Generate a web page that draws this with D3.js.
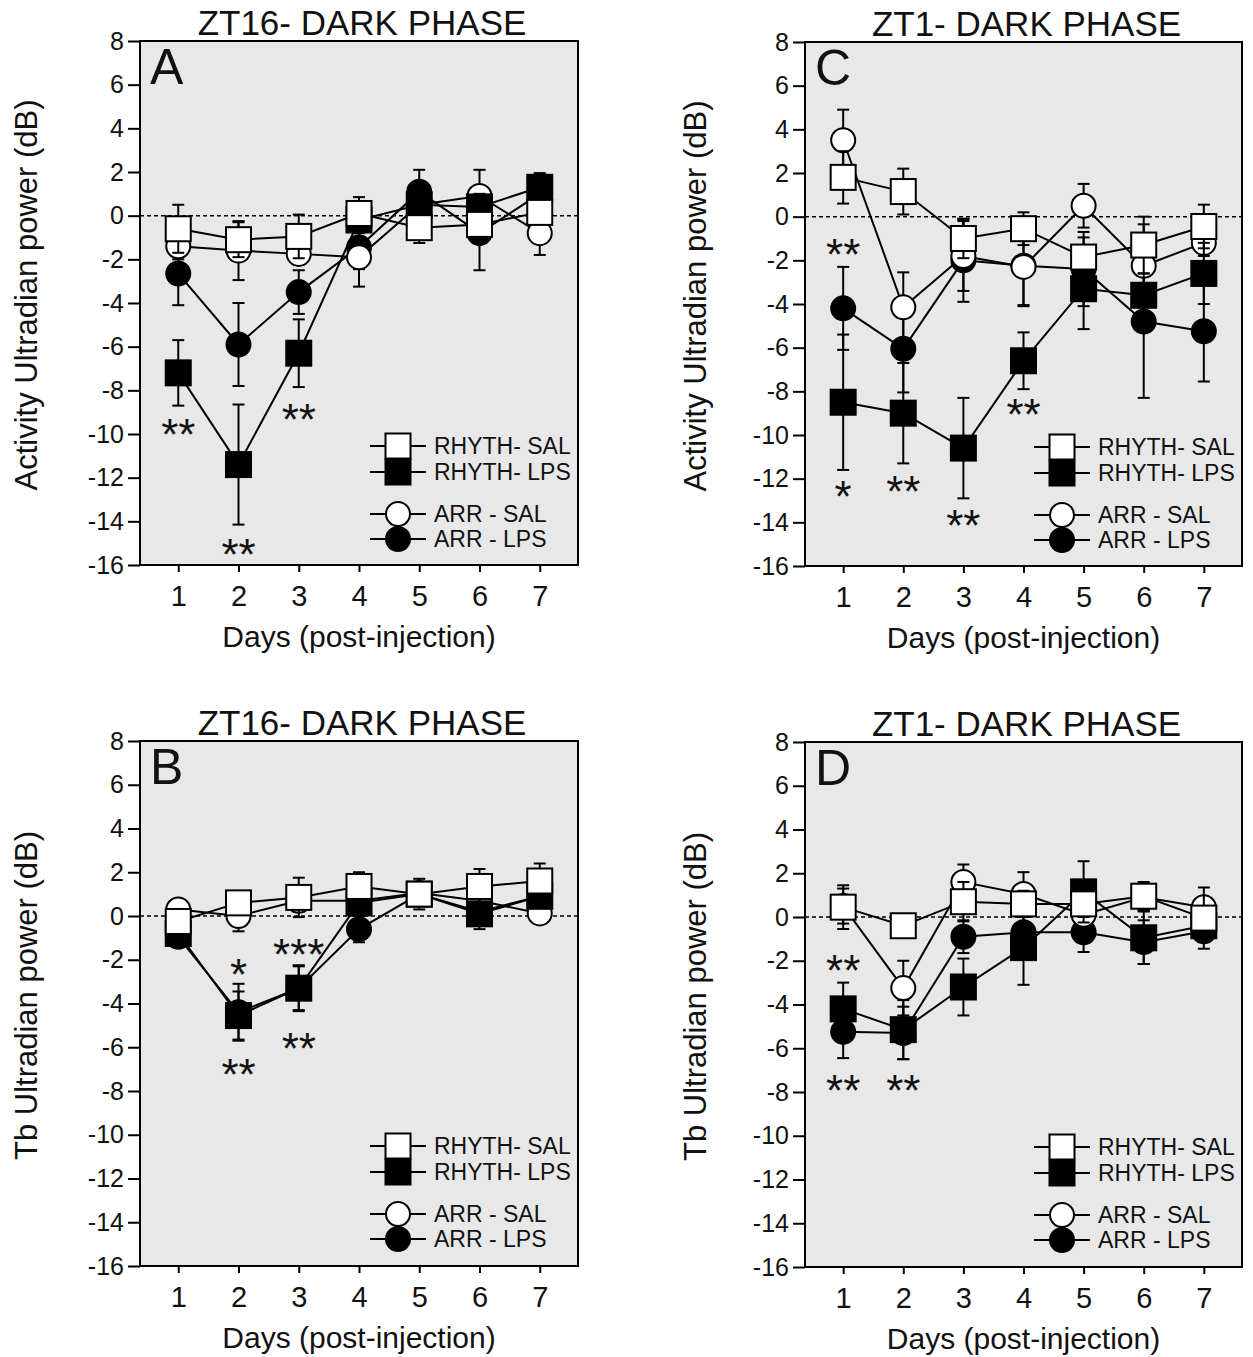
<!DOCTYPE html>
<html>
<head>
<meta charset="utf-8">
<script src="https://cdn.jsdelivr.net/npm/d3@7"></script>
<style>
  body { margin: 0; background: #fff; }
  svg { display: block; font-family: "Liberation Sans", Arial, sans-serif; }
</style>
</head>
<body>
<svg id="fig" width="1253" height="1357"></svg>
<script>
const DAYS = [1, 2, 3, 4, 5, 6, 7];
const Y_TICKS = [-16, -14, -12, -10, -8, -6, -4, -2, 0, 2, 4, 6, 8];
const GROUPS = ["RHYTH- SAL", "RHYTH- LPS", "ARR - SAL", "ARR - LPS"];

// Panel A - activity, ZT16
const A_RHYTH_SAL    = [-0.6, -1.1, -0.95, 0.1, -0.55, -0.4, 0.15];
const A_RHYTH_SAL_SE = [1.1, 0.8, 1.0, 0.75, 0.7, 0.5, 0.5];
const A_RHYTH_LPS    = [-7.2, -11.4, -6.3, -0.2, 0.5, 0.4, 1.3];
const A_RHYTH_LPS_SE = [1.5, 2.75, 1.55, 0.6, 0.5, 0.6, 0.65];
const A_ARR_SAL      = [-1.4, -1.6, -1.75, -1.9, 0.5, 0.9, -0.8];
const A_ARR_SAL_SE   = [0.6, 1.35, 0.5, 1.35, 0.5, 1.2, 1.0];
const A_ARR_LPS      = [-2.65, -5.9, -3.5, -1.45, 1.1, -0.8, 1.0];
const A_ARR_LPS_SE   = [1.45, 1.9, 1.0, 1.0, 1.0, 1.7, 0.6];
const A_STARS = [[1, -9.6, "**"], [2, -15.1, "**"], [3, -8.9, "**"]];

// Panel B - Tb, ZT16
const B_RHYTH_SAL    = [-0.25, 0.6, 0.85, 1.35, 1.0, 1.35, 1.6];
const B_RHYTH_SAL_SE = [0.5, 0.5, 0.9, 0.65, 0.7, 0.8, 0.8];
const B_RHYTH_LPS    = [-0.8, -4.55, -3.3, 0.6, 1.0, 0.1, 0.9];
const B_RHYTH_LPS_SE = [0.4, 1.1, 1.05, 0.5, 0.5, 0.7, 0.5];
const B_ARR_SAL      = [0.3, 0.0, 0.7, 0.7, 1.05, 0.7, 0.12];
const B_ARR_SAL_SE   = [0.3, 0.7, 0.5, 0.5, 0.5, 0.5, 0.4];
const B_ARR_LPS      = [-0.95, -4.4, -3.3, -0.6, 1.0, 0.2, 0.9];
const B_ARR_LPS_SE   = [0.3, 1.3, 1.0, 0.6, 0.5, 0.5, 0.4];
const B_STARS = [[2, -2.25, "*"], [2, -6.8, "**"], [3, -1.3, "***"], [3, -5.6, "**"]];

// Panel C - activity, ZT1
const C_RHYTH_SAL    = [1.8, 1.15, -1.0, -0.55, -1.85, -1.3, -0.45];
const C_RHYTH_SAL_SE = [1.2, 1.05, 0.9, 0.75, 0.9, 1.3, 1.0];
const C_RHYTH_LPS    = [-8.5, -9.0, -10.6, -6.6, -3.3, -3.6, -2.6];
const C_RHYTH_LPS_SE = [3.1, 2.3, 2.3, 1.3, 1.85, 1.0, 1.4];
const C_ARR_SAL      = [3.5, -4.15, -1.8, -2.3, 0.5, -2.25, -1.2];
const C_ARR_SAL_SE   = [1.4, 1.6, 1.6, 1.8, 1.0, 1.9, 0.6];
const C_ARR_LPS      = [-4.2, -6.05, -2.0, -2.25, -2.4, -4.8, -5.25];
const C_ARR_LPS_SE   = [1.9, 2.0, 1.9, 1.8, 1.7, 3.5, 2.3];
const C_STARS = [[1, -1.3, "**"], [1, -12.4, "*"], [2, -12.15, "**"], [3, -13.7, "**"], [4, -8.6, "**"]];

// Panel D - Tb, ZT1
const D_RHYTH_SAL    = [0.45, -0.4, 0.7, 0.6, 0.6, 0.95, -0.05];
const D_RHYTH_SAL_SE = [1.0, 0.4, 0.9, 0.6, 0.6, 0.65, 1.4];
const D_RHYTH_LPS    = [-4.2, -5.15, -3.2, -1.4, 1.15, -0.95, -0.4];
const D_RHYTH_LPS_SE = [1.2, 1.35, 1.3, 1.7, 1.4, 1.2, 0.5];
const D_ARR_SAL      = [0.5, -3.25, 1.6, 1.05, 0.1, 0.9, 0.45];
const D_ARR_SAL_SE   = [0.8, 1.25, 0.8, 1.0, 0.6, 0.6, 0.4];
const D_ARR_LPS      = [-5.25, -5.3, -0.9, -0.7, -0.7, -1.15, -0.65];
const D_ARR_LPS_SE   = [1.2, 1.2, 0.75, 0.7, 0.9, 1.0, 0.5];
const D_STARS = [[1, -2.0, "**"], [1, -7.5, "**"], [2, -7.5, "**"]];

const FONT = { tickY: 25, tickX: 29, axis: 31, xaxis: 30, title: 35, letter: 50, legend: 23, star: 44 };

const svg = d3.select("#fig");

// marker style per group: [shape, fill]
const STYLE = {
  "RHYTH- SAL": ["square", "#fff"],
  "RHYTH- LPS": ["square", "#000"],
  "ARR - SAL":  ["circle", "#fff"],
  "ARR - LPS":  ["circle", "#000"]
};

function series(rs, rsE, rl, rlE, as, asE, al, alE) {
  // drawing order: ARR-LPS, ARR-SAL, RHYTH-LPS, RHYTH-SAL (last on top)
  return [
    { key: GROUPS[3], mean: al, se: alE },
    { key: GROUPS[2], mean: as, se: asE },
    { key: GROUPS[1], mean: rl, se: rlE },
    { key: GROUPS[0], mean: rs, se: rsE }
  ];
}

const panels = [
  { letter: "A", title: "ZT16- DARK PHASE", ylabel: "Activity Ultradian power (dB)",
    box: { left: 140, top: 41, w: 438, h: 524 }, yl: 37,
    series: series(A_RHYTH_SAL, A_RHYTH_SAL_SE, A_RHYTH_LPS, A_RHYTH_LPS_SE, A_ARR_SAL, A_ARR_SAL_SE, A_ARR_LPS, A_ARR_LPS_SE),
    stars: A_STARS },
  { letter: "B", title: "ZT16- DARK PHASE", ylabel: "Tb Ultradian power (dB)",
    box: { left: 140, top: 741, w: 438, h: 525 }, yl: 37,
    series: series(B_RHYTH_SAL, B_RHYTH_SAL_SE, B_RHYTH_LPS, B_RHYTH_LPS_SE, B_ARR_SAL, B_ARR_SAL_SE, B_ARR_LPS, B_ARR_LPS_SE),
    stars: B_STARS },
  { letter: "C", title: "ZT1- DARK PHASE", ylabel: "Activity Ultradian power (dB)",
    box: { left: 805, top: 42, w: 437, h: 524 }, yl: 706,
    series: series(C_RHYTH_SAL, C_RHYTH_SAL_SE, C_RHYTH_LPS, C_RHYTH_LPS_SE, C_ARR_SAL, C_ARR_SAL_SE, C_ARR_LPS, C_ARR_LPS_SE),
    stars: C_STARS },
  { letter: "D", title: "ZT1- DARK PHASE", ylabel: "Tb Ultradian power (dB)",
    box: { left: 805, top: 742, w: 437, h: 525 }, yl: 706,
    series: series(D_RHYTH_SAL, D_RHYTH_SAL_SE, D_RHYTH_LPS, D_RHYTH_LPS_SE, D_ARR_SAL, D_ARR_SAL_SE, D_ARR_LPS, D_ARR_LPS_SE),
    stars: D_STARS }
];

function marker(g, shape, fill, cx, cy) {
  if (shape === "square") {
    const s = 25;
    g.append("rect")
      .attr("x", cx - s / 2).attr("y", cy - s / 2)
      .attr("width", s).attr("height", s)
      .attr("fill", fill).attr("stroke", "#000").attr("stroke-width", 2);
  } else {
    g.append("circle")
      .attr("cx", cx).attr("cy", cy).attr("r", 12)
      .attr("fill", fill).attr("stroke", "#000").attr("stroke-width", 2);
  }
}

panels.forEach(p => {
  const { left, top, w, h } = p.box;
  const x = d3.scaleLinear([0.365, 7.635], [left, left + w]);
  const y = d3.scaleLinear([-16, 8], [top + h, top]);
  const g = svg.append("g");

  // plot background + frame
  g.append("rect")
    .attr("x", left).attr("y", top).attr("width", w).attr("height", h)
    .attr("fill", "#e8e8e8").attr("stroke", "#000").attr("stroke-width", 2);

  // zero reference
  g.append("line")
    .attr("x1", left).attr("x2", left + w)
    .attr("y1", y(0)).attr("y2", y(0))
    .attr("stroke", "#000").attr("stroke-width", 1.5).attr("stroke-dasharray", "4 3");

  // axes (plain hyphen for negatives, as in the figure)
  const ya = g.append("g").attr("transform", `translate(${left},0)`)
    .call(d3.axisLeft(y).tickValues(Y_TICKS).tickSize(12).tickPadding(4).tickFormat(d => String(d)));
  const xa = g.append("g").attr("transform", `translate(0,${top + h})`)
    .call(d3.axisBottom(x).tickValues(DAYS).tickSize(7).tickPadding(13));
  [ya, xa].forEach(a => {
    a.attr("font-family", null);
    a.select(".domain").remove();
    a.selectAll(".tick line").attr("stroke", "#000").attr("stroke-width", 2);
    a.selectAll(".tick text").attr("fill", "#111");
  });
  ya.selectAll(".tick text").attr("font-size", FONT.tickY);
  xa.selectAll(".tick text").attr("font-size", FONT.tickX);

  // series
  const line = d3.line().x((d, i) => x(DAYS[i])).y(d => y(d));
  p.series.forEach(s => {
    const [shape, fill] = STYLE[s.key];
    const sg = g.append("g");
    s.mean.forEach((m, i) => {
      const cx = x(DAYS[i]);
      const y1 = y(m + s.se[i]), y2 = y(m - s.se[i]);
      sg.append("line").attr("x1", cx).attr("x2", cx).attr("y1", y1).attr("y2", y2)
        .attr("stroke", "#000").attr("stroke-width", 2);
      [y1, y2].forEach(yy => sg.append("line")
        .attr("x1", cx - 6).attr("x2", cx + 6).attr("y1", yy).attr("y2", yy)
        .attr("stroke", "#000").attr("stroke-width", 2));
    });
    sg.append("path").attr("d", line(s.mean))
      .attr("fill", "none").attr("stroke", "#000").attr("stroke-width", 2);
    s.mean.forEach((m, i) => marker(sg, shape, fill, x(DAYS[i]), y(m)));
  });

  // significance asterisks (value = visual centre)
  p.stars.forEach(([d, v, t]) => {
    g.append("text")
      .attr("x", x(d)).attr("y", y(v) + FONT.star * 0.57)
      .attr("text-anchor", "middle").attr("font-size", FONT.star).attr("fill", "#111")
      .text(t);
  });

  // legend
  const textX = left + w - 144;
  const mx = textX - 36;
  const rows = [[GROUPS[0], 405], [GROUPS[1], 431], [GROUPS[2], 473], [GROUPS[3], 498]];
  rows.forEach(([k, dy]) => {
    const [shape, fill] = STYLE[k];
    const cy = top + dy;
    g.append("line").attr("x1", mx - 28).attr("x2", mx + 28).attr("y1", cy).attr("y2", cy)
      .attr("stroke", "#000").attr("stroke-width", 2);
    marker(g, shape, fill, mx, cy);
    g.append("text").attr("x", textX).attr("y", cy + FONT.legend * 0.36)
      .attr("font-size", FONT.legend).attr("fill", "#111").text(k);
  });

  // titles
  g.append("text").attr("x", left + w / 2 + 3).attr("y", top - 6)
    .attr("text-anchor", "middle").attr("font-size", FONT.title).attr("fill", "#111").text(p.title);
  g.append("text").attr("x", left + 10).attr("y", top + 43)
    .attr("font-size", FONT.letter).attr("fill", "#111").text(p.letter);
  g.append("text").attr("x", left + w / 2).attr("y", top + h + 82)
    .attr("text-anchor", "middle").attr("font-size", FONT.xaxis).attr("fill", "#111")
    .text("Days (post-injection)");
  g.append("text")
    .attr("transform", `translate(${p.yl},${top + h / 2 - 8}) rotate(-90)`)
    .attr("text-anchor", "middle").attr("font-size", FONT.axis).attr("fill", "#111")
    .text(p.ylabel);
});
</script>
</body>
</html>
